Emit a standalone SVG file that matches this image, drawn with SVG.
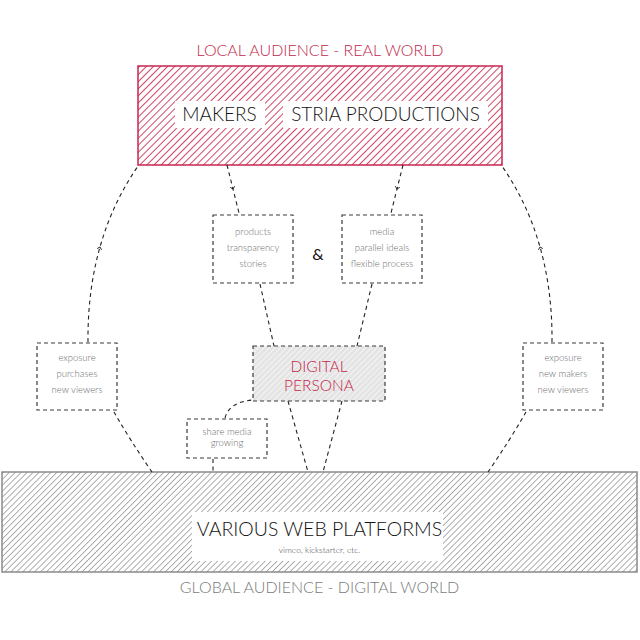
<svg xmlns="http://www.w3.org/2000/svg" width="640" height="640" viewBox="0 0 640 640">
  <defs>
    <pattern id="hatchRed" width="5" height="10" patternUnits="userSpaceOnUse" patternTransform="rotate(45)">
      <line x1="0" y1="0" x2="0" y2="10" stroke="#c9264f" stroke-width="1.7"/>
    </pattern>
    <pattern id="hatchGray" width="4.2" height="10" patternUnits="userSpaceOnUse" patternTransform="rotate(45)">
      <line x1="0" y1="0" x2="0" y2="10" stroke="#7a7a7a" stroke-width="1.2"/>
    </pattern>
    <pattern id="hatchLight" width="4" height="10" patternUnits="userSpaceOnUse" patternTransform="rotate(45)">
      <rect width="4" height="10" fill="#e4e4e4"/>
      <line x1="0" y1="0" x2="0" y2="10" stroke="#ffffff" stroke-width="1.3"/>
    </pattern>
    <marker id="chev" viewBox="-6 -6 12 12" markerWidth="9" markerHeight="9" refX="0" refY="0" orient="auto" markerUnits="userSpaceOnUse">
      <path d="M-3,-3 L0,0 L-3,3" fill="none" stroke="#222" stroke-width="1.2"/>
    </marker>
  </defs>
  <style>
    .t { font-family: Lato, "Open Sans", "Liberation Sans", sans-serif; font-weight: 300; }
    .red { fill: #c41f4a; }
    .dark { fill: #111111; }
    .gray { fill: #7a7a7a; }
    .small { font-size: 9.5px; fill: #6e6e6e; text-anchor: middle; }
    .box { fill: #ffffff; stroke: #3a3a3a; stroke-width: 1.2; stroke-dasharray: 4 3; }
    .conn { fill: none; stroke: #222; stroke-width: 1.1; stroke-dasharray: 4 3.5; }
  </style>

  <text class="t red" x="320" y="56" font-size="16" text-anchor="middle">LOCAL AUDIENCE - REAL WORLD</text>

  <g id="local">
    <rect x="138" y="66" width="364" height="99" fill="url(#hatchRed)" stroke="#c9264f" stroke-width="1.5"/>
    <rect x="175" y="101" width="90" height="27" fill="#fff"/>
    <rect x="283" y="101" width="205" height="27" fill="#fff"/>
    <text class="t dark" x="219.5" y="121" font-size="19" text-anchor="middle">MAKERS</text>
    <text class="t dark" x="385.5" y="121" font-size="19" text-anchor="middle">STRIA PRODUCTIONS</text>
  </g>

  <g id="web">
    <rect x="2" y="472" width="635" height="100" fill="url(#hatchGray)" stroke="#8a8a8a" stroke-width="1.5"/>
    <rect x="192" y="512" width="251" height="49" fill="#fff"/>
    <text class="t dark" x="319.5" y="536" font-size="19.5" text-anchor="middle">VARIOUS WEB PLATFORMS</text>
    <text class="t" x="319.5" y="553" font-size="8.5" fill="#444" text-anchor="middle">vimeo, kickstarter, etc.</text>
  </g>

  <text class="t gray" x="319.5" y="593" font-size="16" text-anchor="middle">GLOBAL AUDIENCE - DIGITAL WORLD</text>

  <g id="connectors">
    <polyline class="conn" points="227,165 233,189 239,213" marker-mid="url(#chev)"/>
    <polyline class="conn" points="403,165 397,189 391,213" marker-mid="url(#chev)"/>
    <line class="conn" x1="260" y1="284" x2="274" y2="346"/>
    <line class="conn" x1="372" y1="284" x2="357" y2="346"/>
    <line class="conn" x1="288" y1="401" x2="308" y2="472"/>
    <line class="conn" x1="342" y1="401" x2="323" y2="472"/>
    <path class="conn" d="M225,418 Q229,402 253,400"/>
    <line class="conn" x1="213" y1="459" x2="213" y2="472"/>
    <path class="conn" d="M88,342 Q87.5,291 100,247 Q112.5,203 138,166" marker-mid="url(#chev)"/>
    <path class="conn" d="M552,342 Q552.5,291 540,247 Q527.5,203 502,166" marker-mid="url(#chev)"/>
    <path class="conn" d="M114,412 Q130,440 152,472"/>
    <path class="conn" d="M526,412 Q510,440 488,472"/>
  </g>

  <g id="products">
    <rect class="box" x="213" y="215" width="80" height="68"/>
    <text class="t small" x="253" y="235">products</text>
    <text class="t small" x="253" y="251">transparency</text>
    <text class="t small" x="253" y="267">stories</text>
  </g>

  <text x="318" y="260" font-family="Lato, 'Open Sans', sans-serif" font-size="16" fill="#111" text-anchor="middle">&amp;</text>

  <g id="media">
    <rect class="box" x="342" y="215" width="80" height="68"/>
    <text class="t small" x="382" y="235">media</text>
    <text class="t small" x="382" y="251">parallel ideals</text>
    <text class="t small" x="382" y="267">flexible process</text>
  </g>

  <g id="exposure-left">
    <rect class="box" x="37" y="343" width="80" height="67"/>
    <text class="t small" x="77" y="361">exposure</text>
    <text class="t small" x="77" y="377">purchases</text>
    <text class="t small" x="77" y="393">new viewers</text>
  </g>

  <g id="exposure-right">
    <rect class="box" x="523" y="343" width="80" height="67"/>
    <text class="t small" x="563" y="361">exposure</text>
    <text class="t small" x="563" y="377">new makers</text>
    <text class="t small" x="563" y="393">new viewers</text>
  </g>

  <g id="persona">
    <rect x="253" y="346" width="132" height="55" fill="url(#hatchLight)" stroke="#3a3a3a" stroke-width="1.2" stroke-dasharray="4 3"/>
    <text class="t red" x="319" y="372" font-size="15.5" text-anchor="middle">DIGITAL</text>
    <text class="t red" x="319" y="391" font-size="15.5" text-anchor="middle">PERSONA</text>
  </g>

  <g id="share">
    <rect class="box" x="187" y="419" width="80" height="39"/>
    <text class="t small" x="227" y="435">share media</text>
    <text class="t small" x="227" y="446">growing</text>
  </g>
</svg>
